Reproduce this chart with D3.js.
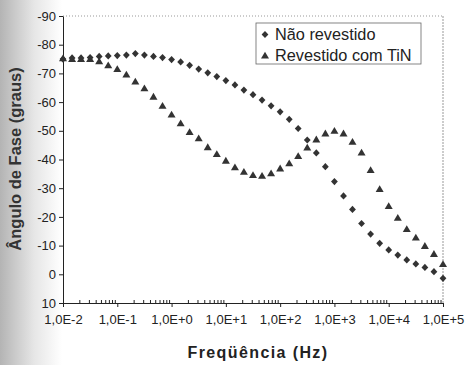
<!DOCTYPE html>
<html>
<head>
<meta charset="utf-8">
<script src="https://cdn.jsdelivr.net/npm/d3@7"></script>
<style>
  body { margin: 0; background: #fff; }
  svg { display: block; font-family: Arial, "Liberation Sans", sans-serif; }
</style>
</head>
<body>
<svg id="chart" width="465" height="365"></svg>
<script>
// Frequencies (Hz), 6 points per decade
const frequencies = [
  0.01, 0.0147, 0.0215, 0.0316, 0.0464, 0.0681,
  0.1, 0.147, 0.215, 0.316, 0.464, 0.681,
  1, 1.47, 2.15, 3.16, 4.64, 6.81,
  10, 14.7, 21.5, 31.6, 46.4, 68.1,
  100, 147, 215, 316, 464, 681,
  1000, 1470, 2150, 3160, 4640, 6810,
  10000, 14700, 21500, 31600, 46400, 68100,
  100000,
];

// Phase angle (degrees)
const nao_revestido = [
  -75.0, -75.4, -75.4, -75.5, -75.9, -76.1,
  -76.2, -76.4, -76.9, -76.4, -75.9, -75.5,
  -74.8, -74.0, -72.8, -71.5, -70.2, -68.9,
  -67.5, -66.0, -64.2, -62.6, -60.7, -58.7,
  -56.6, -54.0, -50.8, -46.8, -42.3, -37.5,
  -32.3, -27.3, -22.6, -17.7, -14.0, -10.8,
  -8.5, -6.7, -5.0, -3.6, -2.4, -0.9,
  1.4,
];
const revestido_tin = [
  -75.3, -75.0, -75.0, -75.0, -74.2, -72.8,
  -71.5, -69.6, -67.2, -64.8, -61.9, -58.7,
  -55.7, -52.6, -49.6, -47.4, -44.3, -41.9,
  -39.6, -37.3, -35.7, -34.6, -34.3, -35.2,
  -36.9, -38.7, -41.2, -44.2, -47.0, -49.1,
  -50.0, -49.1, -46.2, -42.4, -36.3, -29.7,
  -23.8, -19.7, -15.8, -12.8, -9.9, -7.1,
  -3.6,
];

const series_names = ['Não revestido', 'Revestido com TiN'];
const y_ticks = [-90, -80, -70, -60, -50, -40, -30, -20, -10, 0, 10];
const x_ticks = [1e-2, 1e-1, 1e0, 1e1, 1e2, 1e3, 1e4, 1e5];
const x_tick_labels = ['1,0E-2', '1,0E-1', '1,0E+0', '1,0E+1', '1,0E+2', '1,0E+3', '1,0E+4', '1,0E+5'];
const x_title = 'Freqüência (Hz)';
const y_title = 'Ângulo de Fase (graus)';

// Layout
const plot = { left: 63, right: 443, top: 16, bottom: 303 };
const ink = '#222';
const marker_color = '#333';

const svg = d3.select('#chart');

// Scanned-paper shading on the left edge
const defs = svg.append('defs');
const grad = defs.append('linearGradient').attr('id', 'scan').attr('x1', 0).attr('x2', 1);
grad.append('stop').attr('offset', 0).attr('stop-color', '#b4b4b4');
grad.append('stop').attr('offset', 0.55).attr('stop-color', '#e6e6e6');
grad.append('stop').attr('offset', 1).attr('stop-color', '#fff');
svg.append('rect').attr('width', 62).attr('height', 365).attr('fill', 'url(#scan)');

const x = d3.scaleLog().domain([1e-2, 1e5]).range([plot.left, plot.right]);
const y = d3.scaleLinear().domain([-90, 10]).range([plot.top, plot.bottom]);

// Frame (light top / right)
svg.append('line')
  .attr('x1', plot.left).attr('x2', plot.right)
  .attr('y1', plot.top).attr('y2', plot.top)
  .attr('stroke', '#999').attr('stroke-dasharray', '1,2');
svg.append('line')
  .attr('x1', plot.right).attr('x2', plot.right)
  .attr('y1', plot.top).attr('y2', plot.bottom)
  .attr('stroke', '#999').attr('stroke-dasharray', '2,1');

// Y axis
const y_axis = svg.append('g')
  .attr('transform', `translate(${plot.left},0)`)
  .call(d3.axisLeft(y).tickValues(y_ticks).tickSize(4).tickSizeOuter(0)
    .tickPadding(3).tickFormat((d) => String(d)));
y_axis.selectAll('text').attr('font-size', 13).attr('fill', ink);
y_axis.selectAll('line, path').attr('stroke', ink);

// X axis: minor ticks up, major ticks down
const minor = x.ticks().filter((d) => !x_ticks.includes(d));
const x_minor = svg.append('g')
  .attr('transform', `translate(0,${plot.bottom})`)
  .call(d3.axisBottom(x).tickValues(minor).tickSize(-3).tickFormat(''));
x_minor.select('.domain').remove();
x_minor.selectAll('line').attr('stroke', ink);

const x_axis = svg.append('g')
  .attr('transform', `translate(0,${plot.bottom})`)
  .call(d3.axisBottom(x).tickValues(x_ticks).tickSize(4).tickSizeOuter(0)
    .tickPadding(8).tickFormat((d, i) => x_tick_labels[i]));
x_axis.selectAll('text').attr('font-size', 13).attr('fill', ink);
x_axis.selectAll('line, path').attr('stroke', ink);

// Axis titles
svg.append('text')
  .attr('x', 258).attr('y', 358)
  .attr('text-anchor', 'middle')
  .attr('font-size', 16).attr('font-weight', 'bold')
  .attr('letter-spacing', 1.4)
  .attr('fill', ink)
  .text(x_title);
svg.append('text')
  .attr('transform', 'translate(21,159) rotate(-90)')
  .attr('text-anchor', 'middle')
  .attr('font-size', 16.5).attr('font-weight', 'bold')
  .attr('fill', '#333')
  .text(y_title);

// Marker shapes
const diamond = 'M0,-3.6L3.4,0L0,3.6L-3.4,0Z';
const triangle = 'M0,-3.8L4,3L-4,3Z';

const points = (values) => frequencies.map((f, i) => ({ f: f, v: values[i] }));

svg.append('g').attr('class', 'revestido')
  .selectAll('path')
  .data(points(revestido_tin))
  .enter()
  .append('path')
  .attr('d', triangle)
  .attr('transform', (d) => `translate(${x(d.f)},${y(d.v)})`)
  .attr('fill', marker_color);

svg.append('g').attr('class', 'nao_revestido')
  .selectAll('path')
  .data(points(nao_revestido))
  .enter()
  .append('path')
  .attr('d', diamond)
  .attr('transform', (d) => `translate(${x(d.f)},${y(d.v)})`)
  .attr('fill', marker_color);

// Legend
const legend = svg.append('g').attr('transform', 'translate(256,23)');
legend.append('rect')
  .attr('width', 165).attr('height', 41)
  .attr('fill', '#fff').attr('stroke', '#666').attr('stroke-width', 0.8);
const legend_rows = legend.selectAll('g.row')
  .data(series_names)
  .enter()
  .append('g')
  .attr('class', 'row')
  .attr('transform', (d, i) => `translate(0,${11.5 + i * 21})`);
legend_rows.append('path')
  .attr('d', (d, i) => (i === 0 ? diamond : triangle))
  .attr('transform', 'translate(9,0)')
  .attr('fill', marker_color);
legend_rows.append('text')
  .attr('x', 19).attr('y', 5.8)
  .attr('font-size', 16.3).attr('fill', ink)
  .text((d) => d);
</script>
</body>
</html>
